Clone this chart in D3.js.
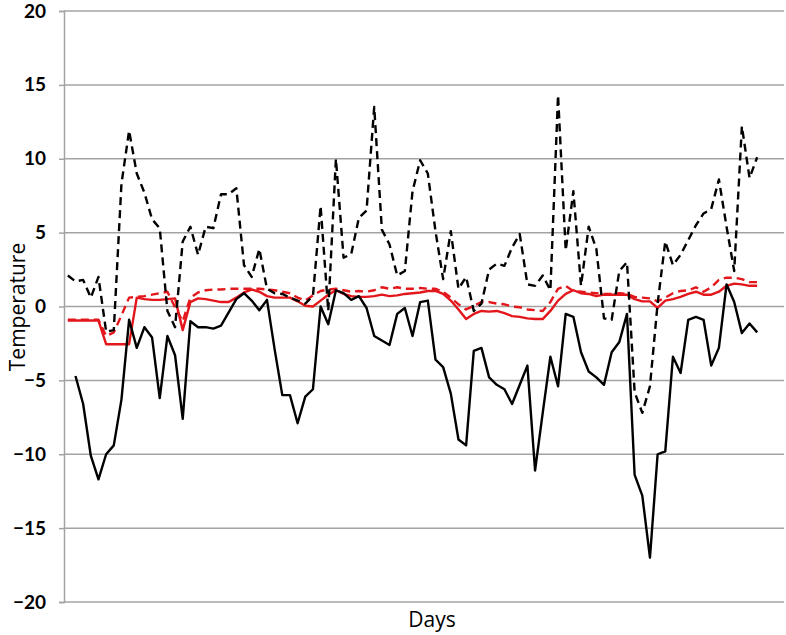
<!DOCTYPE html>
<html>
<head>
<meta charset="utf-8">
<script src="https://cdn.jsdelivr.net/npm/d3@7"></script>
<style>
  body { margin: 0; background: #fff; }
  svg { display: block; }
</style>
</head>
<body>
<div id="chart"></div>
<script>
//Categories: days on the x axis (axis has room for 94, data fills 91)
const days = d3.range(1, 95);

//Y ticks
const yTicks = [-20, -15, -10, -5, 0, 5, 10, 15, 20];

//Black dashed series
const airMax = [2.1, 1.7, 1.8, 0.6, 2.0, -1.7, -1.6, 8.3, 11.9, 9.0,
  7.7, 5.9, 5.3, -0.3, -1.4, 4.4, 5.4, 3.5, 5.4, 5.3,
  7.6, 7.6, 8.0, 2.8, 2.0, 3.9, 1.2, 0.9, 0.85, 0.6,
  0.4, 0.2, 0.7, 6.8, -0.3, 10.0, 3.3, 3.55, 6.0, 6.5,
  13.5, 5.2, 4.2, 2.1, 2.4, 7.8, 9.9, 9.0, 5.1, 1.85,
  5.1, 1.2, 2.0, -0.3, 0.2, 2.5, 2.9, 2.75, 4.0, 4.9,
  1.5, 1.4, 2.1, 1.1, 14.3, 3.8, 7.8, 1.4, 5.4, 3.9,
  -0.8, -0.9, 2.4, 3.0, -5.8, -7.2, -5.4, 0.2, 4.4, 2.8,
  3.5, 4.5, 5.5, 6.3, 6.6, 8.6, 5.4, 2.4, 12.2, 8.7,
  10.1];

//Black solid series
const airMin = [null, -4.7, -6.6, -10.1, -11.7, -10.0, -9.4, -6.3, -0.9, -2.8,
  -1.4, -2.1, -6.2, -2.0, -3.3, -7.6, -1.0, -1.4, -1.4, -1.5,
  -1.3, -0.4, 0.5, 0.9, 0.4, -0.25, 0.45, -2.9, -6.0, -6.0,
  -7.9, -6.1, -5.6, 0.0, -1.2, 1.1, 0.9, 0.45, 0.7, -0.1,
  -2.0, -2.3, -2.6, -0.5, -0.1, -2.0, 0.3, 0.4, -3.6, -4.1,
  -5.9, -9.0, -9.4, -3.0, -2.8, -4.8, -5.3, -5.6, -6.6, -5.3,
  -4.0, -11.1, -7.2, -3.4, -5.4, -0.5, -0.7, -3.1, -4.4, -4.8,
  -5.3, -3.1, -2.4, -0.5, -11.4, -12.8, -17.0, -10.0, -9.8, -3.4,
  -4.5, -0.9, -0.7, -0.9, -4.0, -2.8, 1.5, 0.3, -1.8, -1.15,
  -1.75];

//Red solid series
const soilA = [-0.95, -0.95, -0.95, -0.95, -0.95, -2.55, -2.55, -2.55, -2.55, 0.6,
  0.5, 0.45, 0.45, 0.5, 0.55, -1.6, 0.3, 0.55, 0.5, 0.4,
  0.3, 0.3, 0.6, 0.95, 1.15, 1.0, 0.7, 0.6, 0.6, 0.6,
  0.35, 0.05, 0.0, 0.4, 0.8, 1.1, 0.85, 0.7, 0.65, 0.65,
  0.7, 0.8, 0.7, 0.75, 0.85, 0.9, 0.95, 1.05, 1.05, 0.85,
  0.4, -0.2, -0.85, -0.5, -0.3, -0.35, -0.3, -0.45, -0.65, -0.7,
  -0.8, -0.85, -0.85, -0.3, 0.4, 0.85, 1.1, 0.9, 0.85, 0.7,
  0.8, 0.8, 0.8, 0.8, 0.5, 0.35, 0.35, -0.1, 0.4, 0.5,
  0.65, 0.85, 1.0, 0.8, 0.8, 1.0, 1.4, 1.55, 1.5, 1.4,
  1.4];

//Red dashed series
const soilB = [-0.9, -0.9, -0.9, -0.9, -0.9, -2.0, -1.75, -0.6, 0.6, 0.65,
  0.7, 0.8, 0.9, 1.0, -0.05, -1.0, 0.6, 0.95, 1.1, 1.15,
  1.15, 1.2, 1.2, 1.2, 1.2, 1.2, 1.15, 1.1, 1.0, 0.9,
  0.6, 0.4, 0.75, 1.05, 1.15, 1.2, 1.1, 1.0, 1.05, 1.0,
  1.1, 1.3, 1.2, 1.3, 1.2, 1.2, 1.25, 1.2, 1.2, 1.0,
  0.6, 0.15, -0.2, 0.05, 0.3, 0.3, 0.2, 0.15, 0.0, -0.05,
  -0.2, -0.25, -0.3, 0.3, 1.2, 1.4, 1.05, 1.0, 0.95, 0.9,
  0.85, 0.85, 0.9, 0.85, 0.65, 0.6, 0.55, 0.35, 0.6, 0.9,
  1.05, 1.1, 1.3, 1.0, 1.3, 1.8, 1.95, 1.95, 1.85, 1.65,
  1.65];

//Size and plot area
const width = 786, height = 635;
const plot = { left: 64, right: 784, top: 11, bottom: 602 };

const svg = d3.select("#chart")
  .append("svg")
  .attr("width", width)
  .attr("height", height);

//Scales
const xScale = d3.scaleBand()
  .domain(days)
  .range([plot.left, plot.right]);
const yScale = d3.scaleLinear()
  .domain([-20, 20])
  .range([plot.bottom, plot.top]);

const xPos = i => xScale(days[i]) + xScale.bandwidth() / 2;

//Gridlines
svg.append("g")
  .selectAll("line")
  .data(yTicks)
  .enter().append("line")
  .attr("x1", plot.left)
  .attr("x2", plot.right)
  .attr("y1", d => yScale(d))
  .attr("y2", d => yScale(d))
  .attr("stroke", "#a3a3a3")
  .attr("stroke-width", 1.5);

//Y axis
const yAxis = d3.axisLeft(yScale)
  .tickValues(yTicks)
  .tickSize(5)
  .tickPadding(13);
const gy = svg.append("g")
  .attr("transform", "translate(" + plot.left + ",0)")
  .call(yAxis)
  .attr("font-family", "Lato, 'Open Sans', sans-serif")
  .attr("font-size", 19)
  .attr("font-weight", "bold");
gy.select(".domain").attr("stroke", "#a3a3a3").attr("stroke-width", 1.5);
gy.selectAll(".tick line").attr("stroke", "#a3a3a3").attr("stroke-width", 1.5);
gy.selectAll(".tick text").attr("fill", "#000");

//Lines
const line = d3.line()
  .defined(d => d != null)
  .x((d, i) => xPos(i))
  .y(d => yScale(d));

const series = [
  { values: soilA, color: "#e3161b", dash: null },
  { values: soilB, color: "#e3161b", dash: "8,5" },
  { values: airMax, color: "#000", dash: "8,5" },
  { values: airMin, color: "#000", dash: null }
];

svg.append("g")
  .selectAll("path")
  .data(series)
  .enter().append("path")
  .attr("d", d => line(d.values))
  .attr("fill", "none")
  .attr("stroke", d => d.color)
  .attr("stroke-width", 2.4)
  .attr("stroke-linejoin", "round")
  .attr("stroke-dasharray", d => d.dash);

//Axis titles
svg.append("text")
  .attr("transform", "rotate(-90)")
  .attr("x", -307)
  .attr("y", 25)
  .attr("text-anchor", "middle")
  .attr("font-family", "'Open Sans', Lato, sans-serif")
  .attr("font-size", 21)
  .text("Temperature");

svg.append("text")
  .attr("x", 432)
  .attr("y", 627)
  .attr("text-anchor", "middle")
  .attr("font-family", "'Open Sans', Lato, sans-serif")
  .attr("font-size", 21)
  .text("Days");
</script>
</body>
</html>
